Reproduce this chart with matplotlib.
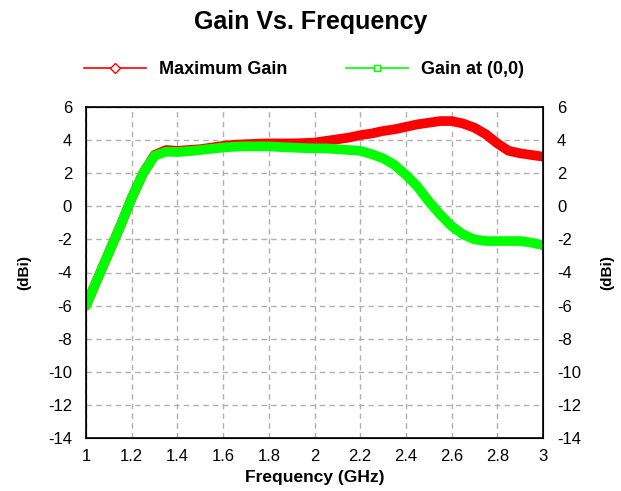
import numpy as np
import matplotlib
matplotlib.use("Agg")
import matplotlib.pyplot as plt
from matplotlib.lines import Line2D

freq = [1.00, 1.05, 1.10, 1.15, 1.20, 1.25, 1.30, 1.35, 1.40, 1.45, 1.50,
        1.55, 1.60, 1.65, 1.70, 1.75, 1.80, 1.85, 1.90, 1.95, 2.00, 2.05,
        2.10, 2.15, 2.20, 2.25, 2.30, 2.35, 2.40, 2.45, 2.50, 2.55, 2.60,
        2.65, 2.70, 2.75, 2.80, 2.85, 2.90, 2.95, 3.00]
max_gain = [-6.0, -4.4, -2.8, -1.2, 0.5, 2.0, 3.1, 3.4, 3.35, 3.4, 3.45,
            3.55, 3.65, 3.72, 3.75, 3.78, 3.8, 3.8, 3.8, 3.82, 3.85, 3.95,
            4.05, 4.15, 4.3, 4.4, 4.55, 4.65, 4.8, 4.95, 5.05, 5.15, 5.15,
            5.0, 4.75, 4.35, 3.8, 3.35, 3.2, 3.1, 3.0]
gain_00 = [-6.0, -4.4, -2.8, -1.2, 0.5, 2.0, 3.05, 3.3, 3.28, 3.33, 3.4,
           3.48, 3.55, 3.6, 3.62, 3.62, 3.62, 3.58, 3.55, 3.52, 3.5, 3.5,
           3.45, 3.4, 3.35, 3.15, 2.9, 2.5, 1.9, 1.2, 0.3, -0.5, -1.2,
           -1.7, -2.0, -2.1, -2.1, -2.1, -2.1, -2.2, -2.35]

xticks = [1, 1.2, 1.4, 1.6, 1.8, 2, 2.2, 2.4, 2.6, 2.8, 3]
xticklabels = ["1", "1.2", "1.4", "1.6", "1.8", "2", "2.2", "2.4", "2.6", "2.8", "3"]
yticks = list(range(-14, 7, 2))

plt.rcParams['font.family'] = ['Liberation Sans', 'DejaVu Sans']
plt.rcParams['axes.unicode_minus'] = False

fig = plt.figure(figsize=(6.21, 4.91), dpi=100)
ax = fig.add_axes([86/621, 53/491, 457/621, 331/491])

ax.plot(freq, max_gain, color='#ff0000', lw=7, solid_capstyle='round', solid_joinstyle='round')
ax.plot(freq, gain_00, color='#00ff00', lw=7, solid_capstyle='round', solid_joinstyle='round')

ax.set_xlim(1, 3)
ax.set_ylim(-14, 6)
ax.set_xticks(xticks)
ax.set_xticklabels(xticklabels)
ax.set_yticks(yticks)
ax.grid(True, color='#b0b0b0', linestyle=(0, (4, 3)), lw=1)
ax.tick_params(axis='both', length=0, labelsize=12, pad=10)
ax.tick_params(axis='x', pad=8)
for s in ax.spines.values():
    s.set_linewidth(1.2)

ax.set_xlabel("Frequency (GHz)", fontsize=12.5, fontweight='bold', labelpad=4)
ax.set_ylabel("(dBi)", fontsize=11, fontweight='bold', labelpad=12)

# right hand axis, same scale
ax2 = ax.twinx()
ax2.set_ylim(-14, 6)
ax2.set_yticks(yticks)
ax2.tick_params(axis='y', length=0, labelsize=12, pad=10)
ax2.set_ylabel("(dBi)", fontsize=11, fontweight='bold', labelpad=14)

fig.text(0.5, 1 - 22/491, "Gain Vs. Frequency", ha='center', va='center',
         fontsize=18, fontweight='bold')

handles = [
    Line2D([], [], color='#ff0000', lw=1.2, marker='D', markersize=5,
           markerfacecolor='white', markeredgecolor='#ff0000'),
    Line2D([], [], color='#00ff00', lw=1.2, marker='s', markersize=5,
           markerfacecolor='white', markeredgecolor='#00ff00'),
]
fig.legend(handles, ["Maximum Gain", "Gain at (0,0)"], loc='center',
           bbox_to_anchor=(304/621, 1 - 70/491), ncol=2, frameon=False,
           prop={'weight': 'bold', 'size': 13}, handlelength=3.4,
           columnspacing=3.3, handletextpad=0.7)

fig.savefig("out.png", dpi=100)
